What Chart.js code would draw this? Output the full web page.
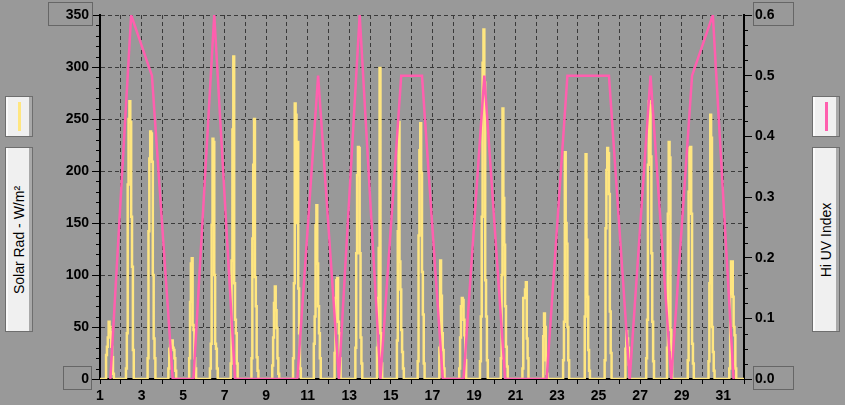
<!DOCTYPE html>
<html>
<head>
<meta charset="utf-8">
<script src="https://cdn.jsdelivr.net/npm/chart.js@4.4.0/dist/chart.umd.min.js"></script>
<style>
html, body { margin: 0; padding: 0; background: #999999; }
#wrap { position: relative; width: 845px; height: 405px; overflow: hidden; background: #999999; }
#wrap canvas { position: absolute; left: 0; top: 0; }
.box { position: absolute; box-sizing: border-box; width: 28px; background: #f0f0f0;
       border: 1px solid #6e6e6e; box-shadow: inset 2px 0 0 #fbfbfb, inset -3px 0 0 #a9a9a9; }
.swatch { position: absolute; left: 12px; top: 5px; width: 3px; height: 29px; }
.ttl { position: absolute; left: 50%; top: 50%; white-space: nowrap; color: #000;
       font: 14px "Liberation Sans", Arial, sans-serif; transform: translate(-50%, -50%) rotate(-90deg); }
</style>
</head>
<body>
<div id="wrap">
  <canvas id="chart" width="845" height="405"></canvas>
  <div class="box" style="left:5px;top:96px;height:41px;"><div class="swatch" style="background:#ffe680;"></div></div>
  <div class="box" style="left:5px;top:147px;height:185px;"><span class="ttl">Solar Rad - W/m²</span></div>
  <div class="box" style="left:812px;top:96px;height:41px;"><div class="swatch" style="background:#ff5fae;"></div></div>
  <div class="box" style="left:812px;top:147px;height:185px;"><span class="ttl">Hi UV Index</span></div>
</div>
<script>
// days of the month
const days = [1, 2, 3, 4, 5, 6, 7, 8, 9, 10, 11, 12, 13, 14, 15, 16, 17, 18, 19, 20, 21, 22, 23, 24, 25, 26, 27, 28, 29, 30, 31];
const dayLabels = [1, 3, 5, 7, 9, 11, 13, 15, 17, 19, 21, 23, 25, 27, 29, 31];
// daylight hours that carry solar readings (rest of the day is 0)
const solarHours = [6, 7, 8, 9, 10, 11, 12, 13, 14, 15, 16, 17, 18];
// Solar Rad - W/m2, one row per day, one value per hour in solarHours
const solarRad = [
  [0, 23, 31, 40, 55, 50, 45, 31, 21, 5, 0, 0, 0],
  [10, 44, 187, 250, 267, 247, 156, 108, 28, 0, 0, 0, 0],
  [0, 20, 142, 212, 238, 236, 209, 100, 39, 20, 0, 0, 0],
  [0, 10, 29, 37, 34, 37, 30, 28, 20, 8, 0, 0, 0],
  [0, 20, 74, 111, 116, 52, 47, 20, 10, 0, 0, 0, 0],
  [0, 10, 34, 148, 231, 228, 100, 34, 29, 10, 0, 0, 0],
  [0, 15, 114, 240, 310, 92, 57, 44, 15, 0, 0, 0, 0],
  [0, 20, 135, 206, 250, 98, 70, 21, 8, 0, 0, 0, 0],
  [0, 13, 40, 73, 89, 66, 49, 20, 5, 0, 0, 0, 0],
  [0, 20, 92, 265, 254, 150, 228, 87, 44, 10, 0, 0, 0],
  [0, 34, 60, 148, 167, 111, 70, 44, 20, 0, 0, 0, 0],
  [0, 25, 78, 95, 97, 55, 44, 20, 0, 0, 0, 0, 0],
  [0, 30, 121, 196, 223, 222, 121, 40, 15, 0, 0, 0, 0],
  [0, 0, 30, 78, 126, 299, 44, 15, 0, 0, 0, 0, 0],
  [0, 37, 142, 247, 113, 86, 47, 26, 10, 0, 0, 0, 0],
  [0, 17, 138, 220, 246, 198, 103, 62, 15, 0, 0, 0, 0],
  [0, 0, 30, 114, 80, 44, 28, 10, 0, 0, 0, 0, 0],
  [0, 10, 40, 70, 78, 76, 57, 42, 18, 0, 0, 0, 0],
  [0, 17, 60, 156, 304, 336, 285, 95, 60, 18, 0, 0, 0],
  [0, 20, 100, 260, 174, 129, 70, 31, 12, 0, 0, 0, 0],
  [0, 0, 10, 78, 78, 86, 93, 39, 20, 0, 0, 0, 0],
  [0, 0, 41, 63, 50, 18, 5, 0, 0, 0, 0, 0, 0],
  [0, 18, 55, 218, 150, 130, 50, 18, 0, 0, 0, 0, 0],
  [0, 0, 60, 216, 134, 79, 28, 8, 0, 0, 0, 0, 0],
  [0, 18, 145, 201, 222, 217, 178, 65, 25, 0, 0, 0, 0],
  [0, 29, 46, 39, 30, 14, 0, 0, 0, 0, 0, 0, 0],
  [0, 20, 57, 206, 267, 263, 214, 121, 55, 17, 0, 0, 0],
  [0, 30, 159, 228, 213, 47, 28, 0, 0, 0, 0, 0, 0],
  [0, 18, 180, 222, 223, 159, 34, 15, 0, 0, 0, 0, 0],
  [0, 17, 92, 254, 232, 50, 26, 8, 0, 0, 0, 0, 0],
  [0, 10, 82, 113, 113, 79, 50, 42, 10, 0, 0, 0, 0]
];
// daily Hi UV Index, plotted at midday
const hiUV = [0, 0.6, 0.5, 0, 0, 0.6, 0, 0, 0, 0, 0.5, 0, 0.6, 0, 0.5, 0.5, 0, 0, 0.5, 0, 0, 0, 0.5, 0.5, 0.5, 0, 0.5, 0, 0.5, 0.6, 0];

const solarColor = '#ffe680';
const uvColor = '#ff5fae';
const gridColor = '#3a3a3a';
const tickFont = { family: 'Liberation Sans', weight: 'bold', size: 14 };

// hourly series: readings in daylight, 0 overnight
var solarPoints = [];
days.forEach(function(d, i){
	for (var h = 0; h < 24; h++) {
		var k = solarHours.indexOf(h);
		solarPoints.push({ x: d + h / 24, y: k >= 0 ? solarRad[i][k] : 0 });
	}
});
solarPoints.push({ x: days[days.length - 1] + 1, y: 0 });

var uvPoints = days.map(function(d, i){ return { x: d + 0.5, y: hiUV[i] }; });

/** minor ticks and boxed end labels **/
const axisExtras = {
	id: 'axisExtras',
	afterDraw: function(chart){
		const ctx = chart.ctx;
		const y = chart.scales.y, y2 = chart.scales.y2;
		ctx.save();
		ctx.strokeStyle = '#000';
		ctx.lineWidth = 1;
		ctx.beginPath();
		for (var v = 0; v <= 350; v += 10) {
			if (v % 50 === 0) continue;
			var py = Math.round(y.getPixelForValue(v)) + 0.5;
			ctx.moveTo(y.right - 4, py); ctx.lineTo(y.right, py);
		}
		for (var j = 0; j <= 24; j++) {
			if (j % 4 === 0) continue;
			var py2 = Math.round(y2.getPixelForValue(j * 0.025)) + 0.5;
			ctx.moveTo(y2.left, py2); ctx.lineTo(y2.left + 4, py2);
		}
		ctx.stroke();
		// boxes round min / max labels
		ctx.font = 'bold 14px "Liberation Sans"';
		ctx.strokeStyle = '#666';
		function boxLeft(label, value){
			var w = ctx.measureText(label).width;
			var ty = y.getPixelForValue(value);
			var right = y.right - 11 + 2.5;
			ctx.strokeRect(Math.round(right - w - 20.5) + 0.5, Math.round(ty - 12.7) + 0.5, Math.round(w + 20.5), 23);
		}
		function boxRight(label, value){
			var w = ctx.measureText(label).width;
			var ty = y2.getPixelForValue(value);
			var left = y2.left + 11 - 2.5;
			ctx.strokeRect(Math.round(left) + 0.5, Math.round(ty - 12.7) + 0.5, Math.round(w + 20.5), 23);
		}
		boxLeft('350', 350); boxLeft('0', 0);
		boxRight('0.6', 0.6); boxRight('0.0', 0);
		ctx.restore();
	}
};

new Chart(document.getElementById('chart'), {
	type: 'line',
	data: {
		datasets: [{
			label: 'Hi UV Index',
			data: uvPoints,
			yAxisID: 'y2',
			borderColor: uvColor,
			borderWidth: 2.5,
			pointRadius: 0,
			order: 0
		}, {
			label: 'Solar Rad - W/m²',
			data: solarPoints,
			yAxisID: 'y',
			borderColor: solarColor,
			borderWidth: 2.5,
			pointRadius: 0,
			stepped: true,
			order: 1
		}]
	},
	options: {
		responsive: false,
		animation: false,
		devicePixelRatio: 1,
		layout: { padding: { top: 15, left: 0, right: 0, bottom: 0 }, autoPadding: false },
		plugins: { legend: { display: false }, tooltip: { enabled: false } },
		scales: {
			x: {
				type: 'linear', min: 1, max: 32,
				afterFit: function(s){ s.height = 26; },
				afterBuildTicks: function(s){ s.ticks = days.concat([32]).map(function(v){ return { value: v }; }); },
				ticks: {
					autoSkip: false, maxRotation: 0, padding: 4, color: '#000', font: tickFont,
					callback: function(v){ return dayLabels.indexOf(v) >= 0 ? String(v) : ''; }
				},
				grid: { color: gridColor, lineWidth: 1, tickLength: 5, tickColor: '#000' },
				border: { color: '#000', width: 2, dash: [4, 3] }
			},
			y: {
				position: 'left', min: 0, max: 350,
				afterFit: function(s){ s.width = 100; },
				ticks: { stepSize: 50, autoSkip: false, padding: 3, color: '#000', font: tickFont },
				grid: { color: gridColor, lineWidth: 1, tickLength: 8, tickColor: '#000' },
				border: { color: '#000', width: 2, dash: [4, 3] }
			},
			y2: {
				position: 'right', min: 0, max: 0.6,
				afterFit: function(s){ s.width = 101; },
				ticks: { stepSize: 0.1, autoSkip: false, padding: 3, color: '#000', font: tickFont,
					callback: function(v){ return v.toFixed(1); } },
				grid: { drawOnChartArea: false, tickLength: 8, tickColor: '#000' },
				border: { color: '#000', width: 2 }
			}
		}
	},
	plugins: [axisExtras]
});
</script>
</body>
</html>
